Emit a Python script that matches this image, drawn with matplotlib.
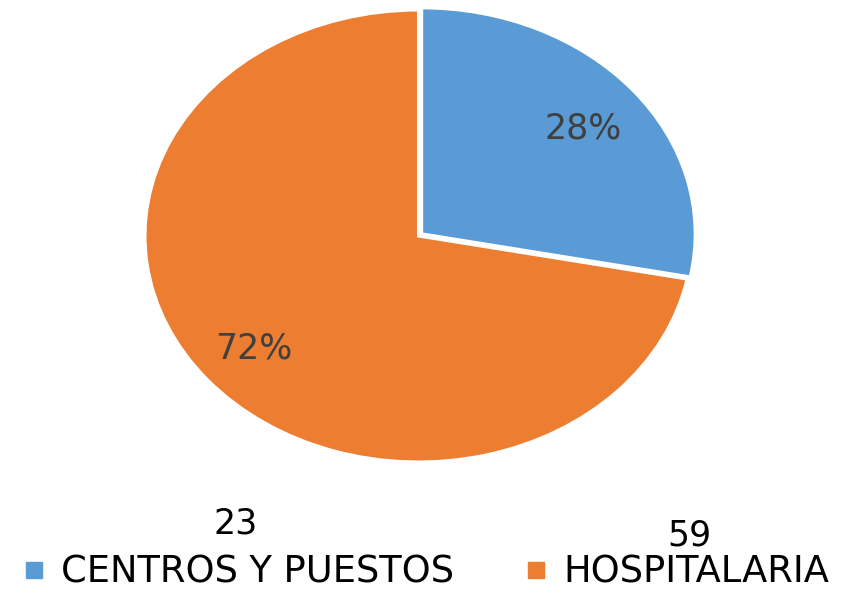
import matplotlib.pyplot as plt
from matplotlib.lines import Line2D

categories = ["CENTROS Y PUESTOS", "HOSPITALARIA"]
counts = [23, 59]
colors = ["#5B9BD5", "#ED7D31"]

fig = plt.figure(figsize=(8.46, 5.94), dpi=100)
# pie box in pixels: x 145..692, y 10..462 (stretched ellipse)
ax = fig.add_axes([145 / 846, (594 - 462) / 594, 547 / 846, 452 / 594])

wedges, texts, autotexts = ax.pie(
    counts, colors=colors, startangle=90, counterclock=False,
    explode=[0.015, 0], autopct="%1.0f%%", pctdistance=0.78,
    wedgeprops=dict(edgecolor="white", linewidth=2.2),
    textprops=dict(color="#404040", fontsize=25),
)
ax.set_aspect("auto")
ax.set_xlim(-1.0, 1.0)
ax.set_ylim(-1.0, 1.0)
# nudge the 28% label down a little, like the reference
x, y = autotexts[0].get_position()
autotexts[0].set_position((x - 0.01, y - 0.03))

# raw counts left under the pie, as in the original
fig.text(236 / 846, 1 - 524 / 594, str(counts[0]), ha="center", va="center",
         fontsize=25, color="black")
fig.text(689 / 846, 1 - 535 / 594, str(counts[1]), ha="center", va="center",
         fontsize=25, color="black")

handles = [Line2D([], [], marker="s", linestyle="none", markersize=12,
                  markerfacecolor=c, markeredgecolor=c) for c in colors]
fig.legend(handles, categories, loc="center", bbox_to_anchor=(425 / 846, 1 - 572 / 594),
           ncol=2, frameon=False, fontsize=26.5, handletextpad=0.38,
           columnspacing=1.9, handlelength=0.7, labelcolor="black",
           borderpad=0, borderaxespad=0)

fig.savefig("out.png", dpi=100)
